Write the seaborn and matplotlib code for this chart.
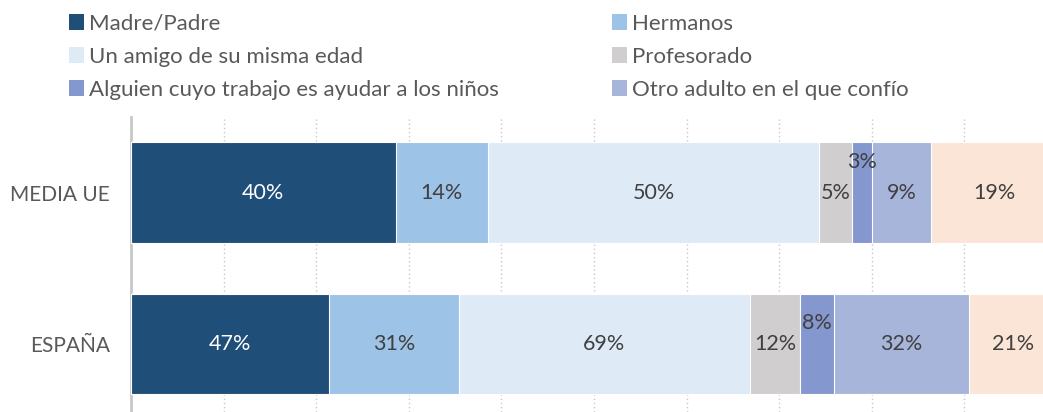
import matplotlib.pyplot as plt
import seaborn as sns
import numpy as np
import pandas as pd
from matplotlib.patches import Patch

sns.set_style("white")
plt.rcParams['font.family'] = ['Lato', 'DejaVu Sans']

# Data
categories = ['MEDIA UE', 'ESPAÑA']
series = ['Madre/Padre', 'Hermanos', 'Un amigo de su misma edad', 'Profesorado',
          'Alguien cuyo trabajo es ayudar a los niños', 'Otro adulto en el que confío',
          'Otro']
media_ue = [40, 14, 50, 5, 3, 9, 19]
espana = [47, 31, 69, 12, 8, 32, 21]
colors = ['#1F4E79', '#9DC3E6', '#DEEBF7', '#D0CECE', '#8497CF', '#A7B5DB', '#FBE5D6']
label_colors = ['white', '#404040', '#404040', '#404040', '#404040', '#404040', '#404040']

df = pd.DataFrame([media_ue, espana], index=categories, columns=series)
share = df.div(df.sum(axis=1), axis=0)
cum = share.cumsum(axis=1)

fig = plt.figure(figsize=(10.43, 4.12), dpi=100)
ax = fig.add_axes([131 / 1043, 0, 1 - 131 / 1043, 295 / 412])

# stacked bars: draw cumulative totals from the back to the front
for i in reversed(range(len(series))):
    sns.barplot(x=cum.iloc[:, i].values, y=categories, color=colors[i], orient='h',
                width=0.665, saturation=1, edgecolor='white', linewidth=0.8,
                ax=ax, zorder=3)

# value labels
lift = {(0, 4): -0.2, (1, 4): -0.14}
for r, cat in enumerate(categories):
    for i, s in enumerate(series):
        x = cum.iloc[r, i] - share.iloc[r, i] / 2
        y = r + lift.get((r, i), 0)
        ax.text(x, y, f"{df.iloc[r, i]}%", ha='center', va='center',
                fontsize=15.5, color=label_colors[i], zorder=4)

ax.set_xlim(0, 0.985)
ax.set_ylim(1.45, -0.5)
ax.set_xticks(np.arange(0.1, 1.0, 0.1))
ax.xaxis.grid(True, linestyle=(0, (1, 2)), color='#C8C8C8', linewidth=1, zorder=0)
ax.set_axisbelow(True)
ax.tick_params(axis='x', length=0, labelbottom=False)
ax.tick_params(axis='y', length=0, labelsize=15, labelcolor='#595959', pad=15)
ax.set_xlabel('')
ax.set_ylabel('')
for sp in ['top', 'right', 'bottom']:
    ax.spines[sp].set_visible(False)
ax.spines['left'].set_color('#C8C8C8')
ax.spines['left'].set_linewidth(2)

# legend in two columns
left_idx = [0, 2, 4]
right_idx = [1, 3, 5]
for idx, xpos in [(left_idx, 60 / 1043), (right_idx, 603 / 1043)]:
    handles = [Patch(facecolor=colors[i], edgecolor='none') for i in idx]
    fig.legend(handles, [series[i] for i in idx], loc='upper left',
               bbox_to_anchor=(xpos, 0.988), frameon=False, fontsize=16,
               labelcolor='#595959', handlelength=0.7, handleheight=0.7,
               handletextpad=0.2, labelspacing=0.58, borderaxespad=0)

fig.savefig('out.png', dpi=100)
